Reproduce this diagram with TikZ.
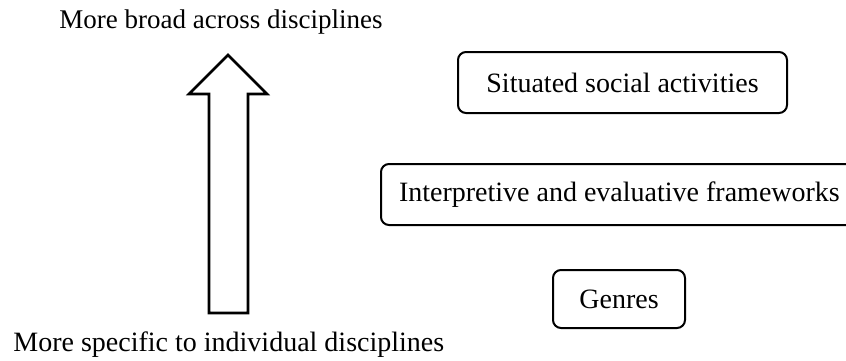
\documentclass[tikz,border=0pt]{standalone}
\usepackage{fontspec}
\setmainfont{Liberation Serif}
\usetikzlibrary{positioning}

\tikzset{
    levelbox/.style={draw,rounded corners=4pt,line width=1pt,inner sep=0pt},
    sidelabel/.style={inner sep=0pt}
}

\begin{document}
\begin{tikzpicture}[x=0.5pt,y=-0.5pt,font=\fontsize{14}{16}\selectfont]

    % frame
    \clip (0,0) rectangle (846,360);

    % levels
    \node[levelbox,minimum width=164.5pt,minimum height=30.5pt] (social) at (622.5,82.5)
        {Situated social activities};
    \node[levelbox,minimum height=30.5pt,anchor=west] (frames) at (380,194.5)
        {\makebox[240pt][l]{\hspace*{9pt}Interpretive and evaluative frameworks}};
    \node[levelbox,minimum width=66pt,minimum height=29pt] (genres) at (619,299)
        {Genres};

    % big arrow
    \coordinate (tip) at (228,55);
    \draw[line width=1.3pt,line join=miter]
        (tip) -- (267,94) -- (248,94) -- (248,313) -- (209,313)
        -- (209,94) -- (189,94) -- cycle;

    % ends of the scale
    \node[sidelabel,font=\fontsize{13.5}{16}\selectfont] (broad) at (221,22) {More broad across disciplines};
    \node[sidelabel,anchor=west] (specific) at (13,345) {More specific to individual disciplines};

\end{tikzpicture}
\end{document}
